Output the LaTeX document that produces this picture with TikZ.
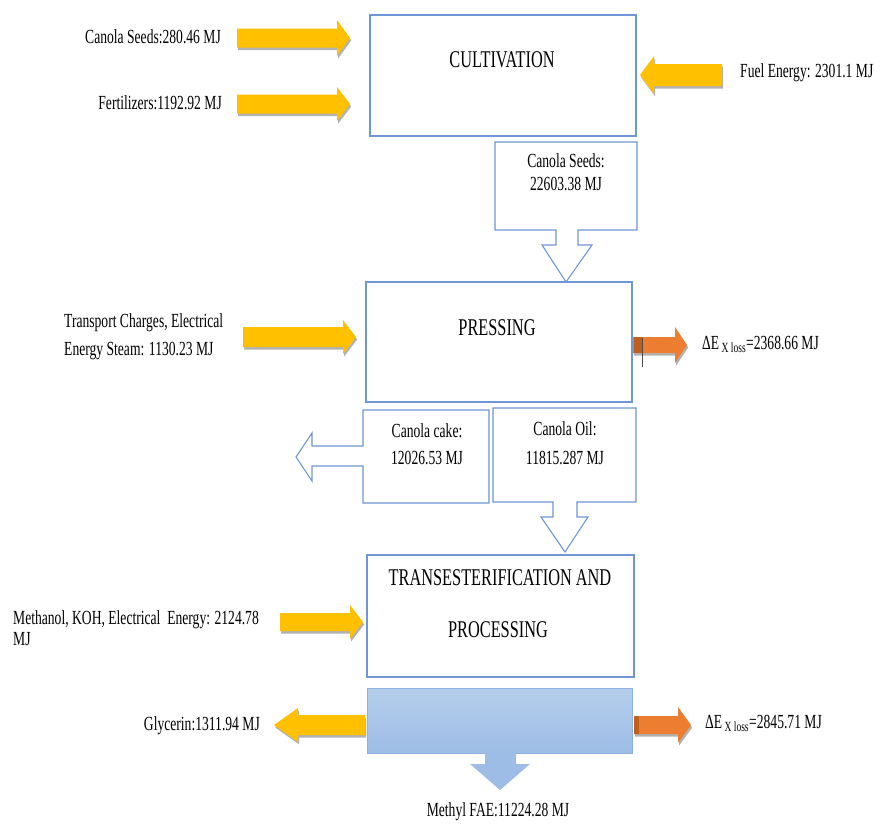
\documentclass[tikz,border=0pt]{standalone}
\usepackage{fontspec}
\setmainfont[FakeStretch=0.68]{Liberation Serif}
\usetikzlibrary{shadows}
\definecolor{boxblue}{HTML}{6F96D6}
\definecolor{arrowyellow}{HTML}{FFC000}
\definecolor{arroworange}{HTML}{ED7D31}
\definecolor{darkorange}{HTML}{C0601E}
\definecolor{bluetop}{HTML}{B6CEEC}
\definecolor{bluebot}{HTML}{9DBDE6}
\definecolor{blueedge}{HTML}{8FB2E2}
\newcommand\harrow[7]{% style, tail x, head base x, tip x, y centre, shaft half, head half
  \path[#1] ({#2},{#5-#6}) -- ({#3},{#5-#6}) -- ({#3},{#5-#7}) -- ({#4},{#5})
    -- ({#3},{#5+#7}) -- ({#3},{#5+#6}) -- ({#2},{#5+#6}) -- cycle;}
\begin{document}
\begin{tikzpicture}[x=1pt,y=-1pt,
  procbox/.style={draw=boxblue, line width=1.1pt, inner sep=0pt},
  callout/.style={draw=boxblue, line width=1.1pt, fill=white, line join=miter},
  lbl/.style={font=\fontsize{20}{22}\selectfont, inner sep=0pt},
  ttl/.style={font=\fontsize{24}{26}\selectfont, inner sep=0pt},
  yarrow/.style={fill=arrowyellow, drop shadow={shadow xshift=1.2pt, shadow yshift=-2.5pt, opacity=0.3, fill=black}},
  oarrow/.style={fill=arroworange, drop shadow={shadow xshift=1.2pt, shadow yshift=-2.5pt, opacity=0.3, fill=black}}]
\useasboundingbox (0,0) rectangle (874,823);
\fill[white] (0,0) rectangle (874,823);

% process boxes
\node[procbox, minimum width=266pt, minimum height=121pt] (cult) at (503,75.5) {};
\node[ttl] (cultT) at (502,60) {CULTIVATION};
\node[procbox, minimum width=266pt, minimum height=120pt] (press) at (499,342) {};
\node[ttl] (pressT) at (497,328) {PRESSING};
\node[procbox, minimum width=267pt, minimum height=122pt] (trans) at (500.5,616) {};
\node[ttl] (transT1) at (500,578) {TRANSESTERIFICATION AND};
\node[ttl] (transT2) at (498,630) {PROCESSING};
\node[draw=blueedge, line width=1pt, top color=bluetop, bottom color=bluebot,
      minimum width=265pt, minimum height=65pt, inner sep=0pt] (prod) at (499.5,720.5) {};

% callouts
\path[callout] (495,142) -- (637,142) -- (637,230) -- (578,230) -- (578,245) -- (592,245)
  -- (566,282) -- (542,245) -- (556,245) -- (556,230) -- (495,230) -- cycle;
\node[lbl, align=center, font=\fontsize{20}{23}\selectfont] (seedsT) at (566,172) {Canola Seeds:\\22603.38 MJ};

\path[callout] (363,410) -- (489,410) -- (489,503) -- (363,503) -- (363,466) -- (312,466)
  -- (312,481) -- (296,457) -- (312,433) -- (312,446) -- (363,446) -- cycle;
\node[lbl, align=center, font=\fontsize{20}{27}\selectfont] (cakeT) at (427,444) {Canola cake:\\12026.53 MJ};

\path[callout] (493,408) -- (636,408) -- (636,502) -- (577,502) -- (577,517) -- (588,517)
  -- (565,552) -- (541,517) -- (553,517) -- (553,502) -- (493,502) -- cycle;
\node[lbl, align=center, font=\fontsize{20}{29}\selectfont] (oilT) at (565,443) {Canola Oil:\\11815.287 MJ};

% input / output arrows
\harrow{yarrow}{237}{337}{350}{38}{9.5}{18}
\node[lbl, anchor=east] (in1) at (221,37) {Canola Seeds:280.46 MJ};
\harrow{yarrow}{237}{337}{350}{104}{9.5}{17}
\node[lbl, anchor=east] (in2) at (222,103) {Fertilizers:1192.92 MJ};
\harrow{yarrow}{722}{654}{640}{75}{11}{19}
\node[lbl, anchor=west] (in3) at (740,73) {Fuel Energy: 2301.1 MJ};

\harrow{yarrow}{243}{343}{356}{337}{10}{17}
\node[lbl, anchor=west, align=left, font=\fontsize{20}{28}\selectfont] (in4) at (64,337) {Transport Charges, Electrical\\Energy Steam: 1130.23 MJ};

\harrow{oarrow}{633}{675}{687}{345}{8}{18}
\fill[darkorange] (634,337) rectangle (642,353);
\draw[black!70, line width=0.8pt] (642,338) -- (642,367);
\node[lbl, anchor=west] (loss1) at (702,344) {ΔE\textsubscript{ X loss}=2368.66 MJ};

\harrow{yarrow}{280}{350}{363}{622}{9}{17}
\node[lbl, anchor=west, align=left, font=\fontsize{20}{21}\selectfont] (in5) at (13,628) {Methanol, KOH, Electrical\ \ Energy: 2124.78\\MJ};

\harrow{yarrow}{365}{298}{274}{725}{10}{17}
\node[lbl, anchor=east] (out1) at (260,726) {Glycerin:1311.94 MJ};

\harrow{oarrow}{634}{678}{691}{725}{9}{18}
\fill[darkorange] (634,716) rectangle (639,734);
\node[lbl, anchor=west] (loss2) at (705,723) {ΔE\textsubscript{ X loss}=2845.71 MJ};

\path[fill=bluebot] (485,753) -- (516,753) -- (516,764) -- (530,764) -- (500,790)
  -- (470,764) -- (485,764) -- cycle;
\node[lbl] (out2) at (498,812) {Methyl FAE:11224.28 MJ};
\end{tikzpicture}
\end{document}
